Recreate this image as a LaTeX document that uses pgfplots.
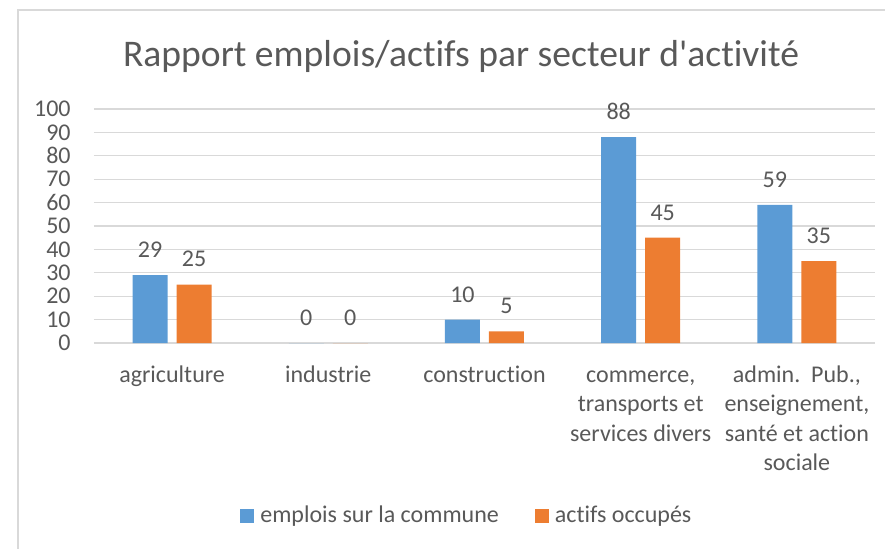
\documentclass[border=0pt]{standalone}
\usepackage{fontspec}
\setmainfont{Carlito}[Ligatures={NoCommon}]
\usepackage{pgfplots}
\pgfplotsset{compat=1.18}
\definecolor{serieA}{HTML}{5B9BD5}
\definecolor{serieB}{HTML}{ED7D31}
\definecolor{txt}{HTML}{595959}
\definecolor{grille}{HTML}{D9D9D9}

\begin{document}
\begin{tikzpicture}
\useasboundingbox (0,0) rectangle (442.5pt,274pt);
\draw[grille, line width=0.7pt] (9pt,-2pt) -- (9pt,269pt) -- (445pt,269pt);
\begin{axis}[
  at={(47pt,102.5pt)}, anchor=south west,
  scale only axis, width=390.5pt, height=117pt,
  ybar=4.5pt, bar width=17.5pt,
  xmin=-0.5, xmax=4.5, ymin=0, ymax=100,
  xtick={0,1,2,3,4},
  xticklabels={\strut agriculture, \strut industrie, \strut construction,
    {\strut commerce,\\transports et\\services divers},
    {\strut admin.\ \ Pub.,\\enseignement,\\santé et action\\sociale}},
  ytick={0,10,...,100},
  major tick length=0pt,
  axis line style={draw=none},
  ymajorgrids, grid style={grille, line width=0.6pt},
  /pgf/number format/assume math mode=true,
  yticklabel style={font=\fontsize{12}{14}\selectfont, text=txt, anchor=east, inner sep=0pt, xshift=-11.5pt},
  xticklabel style={font=\fontsize{12}{14.8}\selectfont, text=txt, anchor=north, align=center, inner sep=0pt, yshift=-9pt},
  title={Rapport emplois/actifs par secteur d\textquotesingle activité},
  title style={font=\fontsize{18.8}{22}\selectfont, text=txt, at={(0.47,1.132)}, anchor=base, inner sep=0pt},
  nodes near coords,
  every node near coord/.append style={font=\fontsize{12}{14}\selectfont, text=txt, anchor=south, inner sep=0pt, yshift=8.5pt},
  legend style={at={(0.48,-0.739)}, anchor=center, draw=none, fill=none,
    legend columns=2, font=\fontsize{12}{14}\selectfont, text=txt,
    nodes={inner sep=3pt},
    /tikz/every even column/.append style={column sep=15pt}},
]
\addplot[fill=serieA, draw=none,
  legend image code/.code={\fill[serieA] (0pt,-3.5pt) rectangle (7pt,3.5pt);}]
  coordinates {(0,29) (1,0) (2,10) (3,88) (4,59)};
\addlegendentry{emplois sur la commune}
\addplot[fill=serieB, draw=none,
  legend image code/.code={\fill[serieB] (0pt,-3.5pt) rectangle (7pt,3.5pt);}]
  coordinates {(0,25) (1,0) (2,5) (3,45) (4,35)};
\addlegendentry{actifs occupés}
\end{axis}
\end{tikzpicture}
\end{document}
